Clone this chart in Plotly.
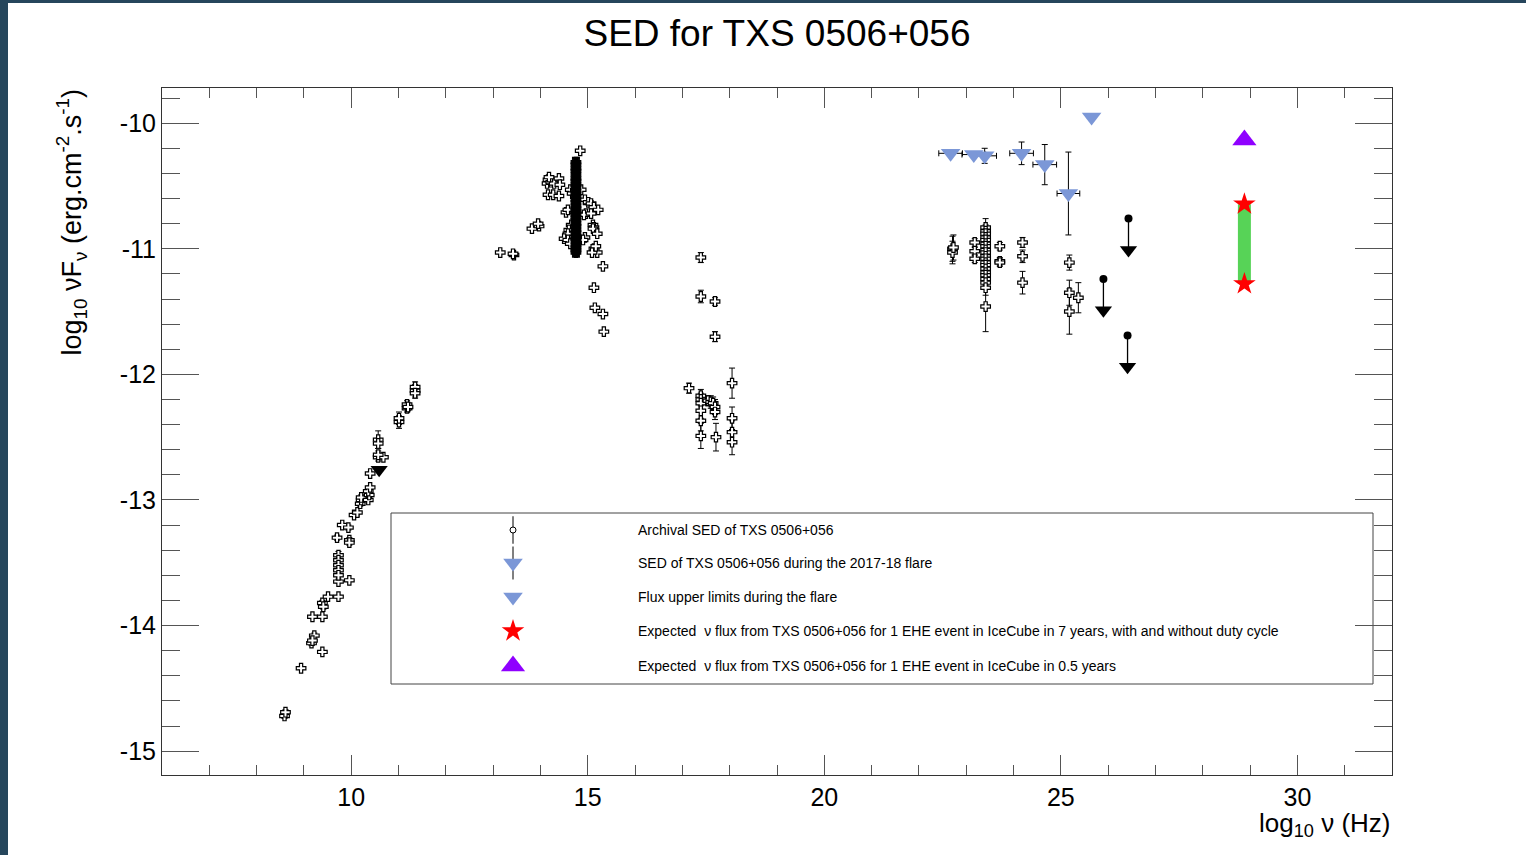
import plotly.graph_objects as go

# ---------------- data (log10 nu [Hz], log10 nuFnu [erg cm-2 s-1]) ----------------
radio_x = [8.59, 8.61, 8.94, 9.22, 9.16, 9.18, 9.39, 9.18, 9.39, 9.39, 9.41, 9.51, 9.73, 9.73,
           9.96, 9.73, 9.73, 9.73, 9.73, 9.73, 9.70, 9.81, 9.94, 9.96, 9.96, 10.06, 10.13, 10.19,
           10.21, 10.21, 10.36, 10.38, 10.36, 10.40, 10.40, 10.57, 10.68, 10.57, 10.57, 10.57,
           11.01, 11.01, 11.18, 11.18, 11.20, 11.35, 11.35, 11.35]
radio_y = [-14.72, -14.69, -14.34, -14.08, -14.14, -14.12, -14.21, -13.93, -13.93, -13.82, -13.85,
           -13.77, -13.77, -13.65, -13.64, -13.44, -13.48, -13.52, -13.56, -13.60, -13.30, -13.20,
           -13.22, -13.32, -13.34, -13.12, -13.10, -13.03, -13.00, -12.98, -13.00, -12.96, -12.93,
           -12.90, -12.79, -12.66, -12.66, -12.64, -12.52, -12.55, -12.38, -12.35, -12.27, -12.24,
           -12.26, -12.13, -12.10, -12.15]
radio_err = [0.02, 0.02, 0.01, 0.02, 0.02, 0.02, 0.01, 0.01, 0.01, 0.02, 0.02, 0.01, 0.01, 0.01,
             0.01, 0.03, 0.03, 0.03, 0.03, 0.03, 0.02, 0.01, 0.02, 0.02, 0.02, 0.01, 0.01, 0.02,
             0.02, 0.02, 0.01, 0.02, 0.02, 0.01, 0.01, 0.03, 0.01, 0.03, 0.07, 0.04, 0.05, 0.05,
             0.03, 0.03, 0.03, 0.05, 0.04, 0.04]

opt_x = [13.15, 13.44, 13.42, 13.82, 13.97, 13.95, 14.14, 14.16, 14.22, 14.29, 14.39, 14.41, 14.18,
         14.16, 14.27, 14.39, 14.63, 14.67, 14.54, 14.58, 14.84, 14.86, 14.94, 15.01, 15.07, 15.13,
         15.22, 14.96, 14.92, 15.07, 14.65, 14.60, 14.58, 15.11, 15.13, 15.11, 15.20, 14.50, 14.58,
         14.63, 14.94, 14.90, 15.13, 15.20, 15.09, 15.17, 15.32, 15.13, 15.15, 15.32, 15.34]
opt_y = [-11.03, -11.05, -11.04, -10.84, -10.82, -10.80, -10.48, -10.45, -10.47, -10.48, -10.44,
         -10.49, -10.43, -10.57, -10.57, -10.58, -10.53, -10.56, -10.71, -10.69, -10.22, -10.53,
         -10.61, -10.63, -10.64, -10.67, -10.69, -10.72, -10.73, -10.72, -10.81, -10.85, -10.88,
         -10.81, -10.83, -10.84, -10.88, -10.92, -10.93, -10.96, -10.91, -10.93, -11.00, -11.03,
         -11.03, -10.98, -11.14, -11.31, -11.47, -11.52, -11.66]

col_x = [14.75] * 31
col_y = [-10.31, -10.33, -10.36, -10.38, -10.41, -10.44, -10.46, -10.49, -10.51, -10.54, -10.56,
         -10.58, -10.61, -10.63, -10.66, -10.68, -10.70, -10.73, -10.75, -10.77, -10.80, -10.82,
         -10.85, -10.87, -10.90, -10.92, -10.94, -10.97, -10.99, -11.01, -11.03]

xray_x = [17.39, 17.39, 17.69, 17.69, 17.14, 17.39, 17.39, 17.39, 17.39, 17.39, 17.39, 17.54,
          17.60, 17.65, 17.69, 17.69, 17.71, 18.05, 18.05, 18.05, 18.05]
xray_y = [-11.07, -11.38, -11.42, -11.70, -12.11, -12.17, -12.20, -12.23, -12.29, -12.37, -12.49,
          -12.21, -12.22, -12.23, -12.26, -12.30, -12.50, -12.07, -12.35, -12.46, -12.54]
xray_err = [0.04, 0.05, 0.03, 0.04, 0.04, 0.05, 0.05, 0.06, 0.06, 0.08, 0.10, 0.04, 0.05, 0.05,
            0.06, 0.06, 0.11, 0.12, 0.09, 0.09, 0.10]

gam_x = [22.71, 22.71, 22.73, 23.18, 23.18, 23.18,
         23.41, 23.41, 23.41, 23.41, 23.41, 23.41, 23.41, 23.41, 23.41, 23.41, 23.41, 23.41,
         23.41, 23.41, 23.41, 23.41, 23.41, 23.41, 23.41, 23.41,
         23.71, 23.71, 23.71, 24.19, 24.19, 24.19, 25.18, 25.18, 25.18, 25.37]
gam_y = [-11.00, -11.03, -10.99, -10.95, -11.02, -11.08,
         -10.83, -10.86, -10.88, -10.91, -10.93, -10.96, -10.98, -11.01, -11.03, -11.06, -11.08,
         -11.11, -11.13, -11.16, -11.19, -11.21, -11.24, -11.27, -11.31, -11.46,
         -10.98, -11.10, -11.11, -10.95, -11.06, -11.27, -11.11, -11.35, -11.50, -11.39]
gam_err = [0.10, 0.09, 0.10, 0.03, 0.03, 0.03,
           0.07, 0.05, 0.05, 0.05, 0.05, 0.05, 0.05, 0.05, 0.05, 0.05, 0.05, 0.05, 0.05, 0.05,
           0.05, 0.05, 0.05, 0.05, 0.06, 0.20,
           0.03, 0.03, 0.03, 0.04, 0.05, 0.09, 0.06, 0.10, 0.18, 0.12]

# archival upper limits (value of the point, arrow drawn downward)
ul_x = [25.90, 26.43, 26.41]
ul_y = [-11.24, -10.76, -11.69]
radio_ul_x = [10.59]
radio_ul_y = [-12.76]

# SED during the 2017-18 flare
flare_x = [22.67, 23.16, 23.39, 24.17, 24.66, 25.16]
flare_y = [-10.24, -10.25, -10.26, -10.24, -10.33, -10.56]
flare_xerr = [0.25, 0.25, 0.25, 0.25, 0.25, 0.24]
flare_yerr = [0.01, 0.01, 0.06, 0.09, 0.16, 0.33]

# flux upper limit during the flare
flare_ul_x = [25.65]
flare_ul_y = [-9.95]

# expected neutrino flux
nu7_x = [28.88, 28.88]
nu7_y = [-10.645, -11.28]
nu05_x = [28.88]
nu05_y = [-10.135]

legend_labels = [
    "Archival SED of TXS 0506+056",
    "SED of TXS 0506+056 during the 2017-18 flare",
    "Flux upper limits during the flare",
    "Expected  \u03bd flux from TXS 0506+056 for 1 EHE event in IceCube in 7 years, with and without duty cycle",
    "Expected  \u03bd flux from TXS 0506+056 for 1 EHE event in IceCube in 0.5 years",
]

x_ticks = [10, 15, 20, 25, 30]
y_ticks = [-10, -11, -12, -13, -14, -15]
y_ticktext = ["-10", "-11", "-12", "-13", "-14", "-15"]

# ---------------- styling ----------------
W, H = 1526, 855
ML, MR, MT, MB = 162, 134, 88, 80
PW, PH = W - ML - MR, H - MT - MB
FONT = "Liberation Sans, Arial, Helvetica, sans-serif"
BLUE = "#7b97d7"
ARROW = 0.25

def px(xp):
    return (xp - ML) / PW

def py(yp):
    return (H - MB - yp) / PH

fig = go.Figure()

cross = dict(symbol="cross", size=8, color="white", line=dict(color="black", width=1.2))

def errbar(arr, width=3):
    return dict(type="data", array=arr, color="black", thickness=1, width=width)

fig.add_trace(go.Scatter(x=radio_x, y=radio_y, mode="markers", marker=cross,
                         error_y=errbar(radio_err)))
fig.add_trace(go.Scatter(x=opt_x, y=opt_y, mode="markers", marker=cross))
fig.add_trace(go.Scatter(x=col_x, y=col_y, mode="markers",
                         marker=dict(symbol="cross", size=8, color="black",
                                     line=dict(color="black", width=1.2)),
                         error_y=dict(type="constant", value=0.03, color="black", thickness=3, width=4)))
fig.add_trace(go.Scatter(x=xray_x, y=xray_y, mode="markers", marker=cross,
                         error_y=errbar(xray_err)))
fig.add_trace(go.Scatter(x=gam_x, y=gam_y, mode="markers", marker=cross,
                         error_y=errbar(gam_err)))

# archival upper limits: dot + arrow
for xv, yv in zip(ul_x, ul_y):
    fig.add_trace(go.Scatter(x=[xv, xv], y=[yv, yv - ARROW], mode="lines+markers",
                             line=dict(color="black", width=1.3),
                             marker=dict(symbol=["circle", "triangle-down"], size=[8, 15],
                                         color="black", opacity=1, line=dict(width=0))))
fig.add_trace(go.Scatter(x=radio_ul_x, y=radio_ul_y, mode="markers",
                         marker=dict(symbol="triangle-down", size=15, color="black",
                                     line=dict(width=0))))

# flare SED
fig.add_trace(go.Scatter(x=flare_x, y=flare_y, mode="markers",
                         marker=dict(symbol="triangle-down", size=17, color=BLUE, line=dict(width=0)),
                         error_x=dict(type="data", array=flare_xerr, color="black", thickness=1, width=3),
                         error_y=dict(type="data", array=flare_yerr, color="black", thickness=1, width=3)))
fig.add_trace(go.Scatter(x=flare_ul_x, y=flare_ul_y, mode="markers",
                         marker=dict(symbol="triangle-down", size=17, color=BLUE, line=dict(width=0))))

# expected neutrino flux band
fig.add_trace(go.Scatter(x=nu7_x, y=nu7_y, mode="lines",
                         line=dict(color="#57d357", width=13)))
fig.add_trace(go.Scatter(x=nu7_x, y=nu7_y, mode="markers",
                         marker=dict(symbol="star", size=17, color="red", line=dict(width=0))))
fig.add_trace(go.Scatter(x=nu05_x, y=nu05_y, mode="markers",
                         marker=dict(symbol="triangle-up", size=21, color="#8f00ff", line=dict(width=0))))

# ---------------- hand-drawn legend (overlay axes spanning the plot area) ----------------
leg_rows = [py(530), py(563), py(597), py(631), py(666)]
leg_mx = px(513)
leg_tx = px(636)

fig.add_trace(go.Scatter(x=[leg_mx], y=[leg_rows[0]], xaxis="x2", yaxis="y2", mode="markers",
                         marker=dict(symbol="circle", size=6, color="white",
                                     line=dict(color="black", width=1)),
                         error_y=dict(type="constant", value=0.02, color="black", thickness=1, width=0)))
fig.add_trace(go.Scatter(x=[leg_mx], y=[leg_rows[1]], xaxis="x2", yaxis="y2", mode="markers",
                         marker=dict(symbol="triangle-down", size=17, color=BLUE, line=dict(width=0)),
                         error_y=dict(type="constant", value=0.024, color="black", thickness=1, width=0)))
fig.add_trace(go.Scatter(x=[leg_mx], y=[leg_rows[2]], xaxis="x2", yaxis="y2", mode="markers",
                         marker=dict(symbol="triangle-down", size=17, color=BLUE, line=dict(width=0))))
fig.add_trace(go.Scatter(x=[leg_mx], y=[leg_rows[3]], xaxis="x2", yaxis="y2", mode="markers",
                         marker=dict(symbol="star", size=17, color="red", line=dict(width=0))))
fig.add_trace(go.Scatter(x=[leg_mx], y=[leg_rows[4]], xaxis="x2", yaxis="y2", mode="markers",
                         marker=dict(symbol="triangle-up", size=21, color="#8f00ff", line=dict(width=0))))

annotations = []
for yv, txt in zip(leg_rows, legend_labels):
    annotations.append(dict(xref="paper", yref="paper", x=leg_tx, y=yv, text=txt,
                            showarrow=False, xanchor="left", yanchor="middle",
                            font=dict(family=FONT, size=14, color="black")))

annotations.append(dict(xref="paper", yref="paper", x=px(72), y=py(87), textangle=-90,
                        text="log<sub>10</sub> \u03bdF<sub>\u03bd</sub> (erg.cm<sup>-2</sup>.s<sup>-1</sup>)",
                        showarrow=False, xanchor="center", yanchor="top",
                        font=dict(family=FONT, size=27, color="black")))
annotations.append(dict(xref="paper", yref="paper", x=1, y=py(806),
                        text="log<sub>10</sub> \u03bd (Hz)",
                        showarrow=False, xanchor="right", yanchor="top",
                        font=dict(family=FONT, size=26, color="black")))

shapes = [
    dict(type="rect", xref="paper", yref="paper", x0=px(391), x1=px(1373), y0=py(684), y1=py(513),
         line=dict(color="#444", width=1), fillcolor="rgba(0,0,0,0)", layer="below"),
    dict(type="rect", xref="paper", yref="paper", x0=px(0), x1=px(8), y0=py(H), y1=py(0),
         line=dict(width=0), fillcolor="#26465c", layer="above"),
    dict(type="rect", xref="paper", yref="paper", x0=px(0), x1=px(W), y0=py(3), y1=py(0),
         line=dict(width=0), fillcolor="#26465c", layer="above"),
]

axis_common = dict(showgrid=False, zeroline=False, showline=True, mirror="ticks",
                   linecolor="#333", linewidth=1, ticks="inside", tickcolor="#555", tickwidth=1,
                   tickfont=dict(family=FONT, size=25, color="black"))

fig.update_layout(
    width=W, height=H, autosize=False,
    margin=dict(l=ML, r=MR, t=MT, b=MB, pad=0),
    paper_bgcolor="white", plot_bgcolor="white",
    showlegend=False,
    font=dict(family=FONT, color="black"),
    title=dict(text="SED for TXS 0506+056", x=px(777), xref="paper", xanchor="center",
               y=1 - 33 / H, yanchor="middle", font=dict(family=FONT, size=37, color="black")),
    xaxis=dict(range=[6, 32], tickmode="array", tickvals=x_ticks, ticktext=[str(v) for v in x_ticks],
               ticklen=20,
               minor=dict(ticks="inside", ticklen=10, tickmode="linear", tick0=0, dtick=1,
                          tickcolor="#555", tickwidth=1),
               **axis_common),
    yaxis=dict(range=[-15.19, -9.72], tickmode="array", tickvals=y_ticks, ticktext=y_ticktext,
               ticklen=37,
               minor=dict(ticks="inside", ticklen=18, tickmode="linear", tick0=0, dtick=0.2,
                          tickcolor="#555", tickwidth=1),
               **axis_common),
    xaxis2=dict(range=[0, 1], overlaying="x", anchor="y2", visible=False),
    yaxis2=dict(range=[0, 1], overlaying="y", anchor="x2", visible=False),
    annotations=annotations,
    shapes=shapes,
)

fig.write_html("out.html")
